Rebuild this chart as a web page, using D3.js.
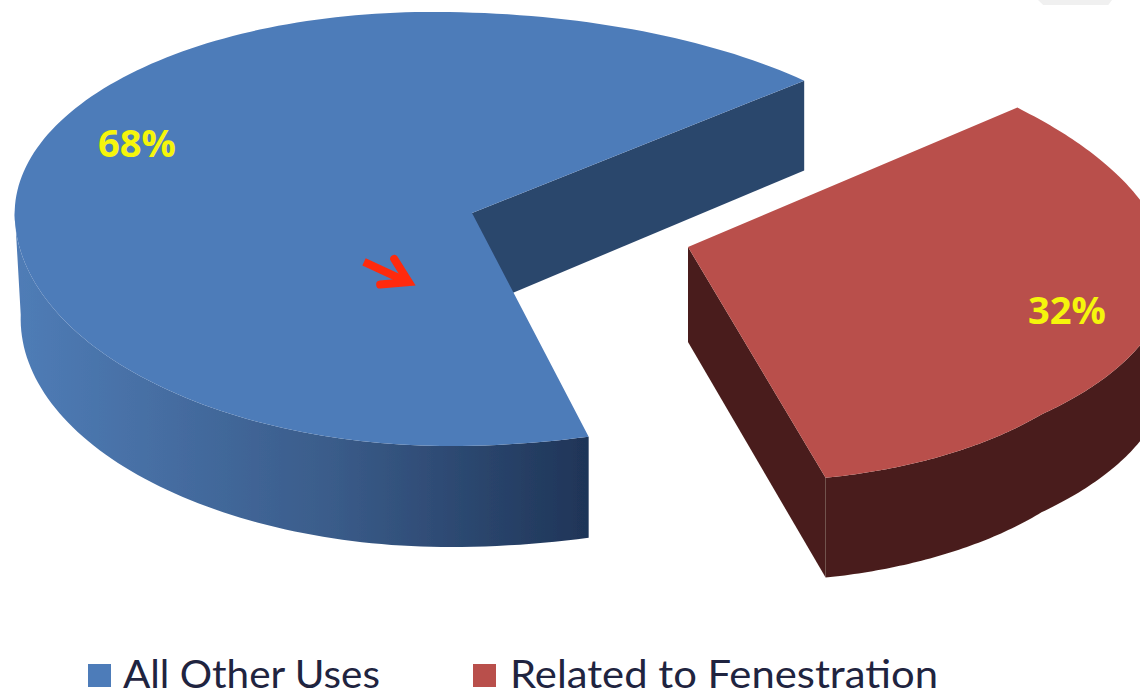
<!DOCTYPE html>
<html><head><meta charset="utf-8">
<script src="https://cdn.jsdelivr.net/npm/d3@7"></script>
<style>html,body{margin:0;padding:0;background:#fff;overflow:hidden}svg{display:block}</style>
</head><body><svg id="c" width="1140" height="691"></svg>
<script>
const categories = ["All Other Uses", "Related to Fenestration"];
const values = [68, 32];
const percentLabels = ["68%", "32%"];
const topColors = ["#4e7cb9", "#b9504b"];
const wallColors = ["#2c476c", "#4a1e1b"];
const sideStops = [["#4f7cb6", "#3a5c8a", "#1f3558"], ["#4a1e1b", "#4a1e1b", "#4a1e1b"]];

const svg = d3.select("#c");
const defs = svg.append("defs");
const soft = defs.append("filter").attr("id", "soft");
soft.append("feGaussianBlur").attr("stdDeviation", 0.5);
const root = svg.append("g").attr("filter", "url(#soft)");
const TAU = Math.PI * 2;

// Projection of each exploded slice: unit circle -> tilted ellipse on screen
const frames = [
  { apex: [472, 213], apexDepth: 97,
    x: d3.scaleLinear([-1, 0, 1], [15, 440, 935]), y: d3.scaleLinear([-1, 0, 1], [12, 218, 446]),
    shear: 17, lift: -4, inset: 6, depth: d3.scaleLinear([-1, -0.6, 0, 1], [88, 90, 106, 101]), gx: [20, 585] },
  { apex: [688, 247], apexDepth: 95,
    x: d3.scaleLinear([-1, 0, 0.76, 1], [230, 688, 1030, 1168]), y: d3.scaleLinear([-1, 0, 1], [10, 247, 481]),
    shear: 18, lift: 20, inset: 0, depth: d3.scaleLinear([-1, 1], [88, 100]), gx: [825, 1140] }
];

const rotation = 49.3 / 360 * TAU;
const redSweep = values[1] / d3.sum(values) * TAU;
const slices = [
  { start: rotation + redSweep, end: rotation + TAU },
  { start: rotation, end: rotation + redSweep }
];

const project = (f, a, drop = false) => {
  const ux = Math.sin(a), uy = -Math.cos(a);
  return [
    f.x(ux) + f.shear * uy + (drop ? Math.max(0, -ux) * f.inset : 0),
    f.y(uy) + f.lift * ux + (drop ? f.depth(uy) : 0)
  ];
};
const line = d3.line();
const samples = (s, e) => d3.range(0, 181).map(i => s + (e - s) * i / 180);

categories.forEach((c, i) => {
  const f = frames[i], s = slices[i];
  const apex = f.apex;
  const apexDrop = [apex[0], apex[1] + f.apexDepth];
  const g = root.append("g");

  const grad = defs.append("linearGradient").attr("id", "side" + i)
    .attr("gradientUnits", "userSpaceOnUse")
    .attr("x1", f.gx[0]).attr("x2", f.gx[1]).attr("y1", 0).attr("y2", 0);
  sideStops[i].forEach((col, k) => grad.append("stop").attr("offset", [0, 0.55, 1][k]).attr("stop-color", col));

  // inner cut wall
  g.append("path").attr("fill", wallColors[i])
    .attr("d", line([apex, project(f, s.end), project(f, s.end, true), apexDrop]) + "Z");

  // outer rim: only the part facing the viewer
  const rim = samples(s.start, s.end).filter(a => Math.cos(a) < 0.08);
  const upper = rim.map(a => project(f, a));
  const lower = rim.map(a => project(f, a, true)).reverse();
  g.append("path").attr("fill", `url(#side${i})`).attr("d", line(upper.concat(lower)) + "Z");

  // top face
  const top = [apex].concat(samples(s.start, s.end).map(a => project(f, a)));
  g.append("path").attr("fill", topColors[i]).attr("d", line(top) + "Z");
});

// Red annotation arrow
const arrowX = d3.scaleLinear([0, 1], [363, 415]);
const arrowY = d3.scaleLinear([0, 1], [258, 286]);
const ag = root.append("g").attr("fill", "none").attr("stroke", "#ff2a0a").attr("stroke-width", 8).attr("stroke-linejoin", "miter");
ag.append("path").attr("d", line([[arrowX(0.02), arrowY(0.14)], [arrowX(0.85), arrowY(0.85)]]));
ag.append("path").attr("stroke-linecap", "round").attr("d", line([[arrowX(0.6), arrowY(0.03)], [arrowX(0.88), arrowY(0.86)], [arrowX(0.33), arrowY(0.95)]]));

// Faint grey smudge at the top edge of the source image
const smudgeX = d3.scaleLinear([0, 1], [1038, 1112]);
const smudgeY = d3.scaleLinear([0, 1], [0, 5]);
root.append("path").attr("fill", "#f0f0f0")
  .attr("d", line([[smudgeX(0), smudgeY(0)], [smudgeX(1), smudgeY(0)], [smudgeX(0.95), smudgeY(1)], [smudgeX(0.07), smudgeY(1)]]) + "Z");

// Percent labels
const labelPos = [[137, 144], [1067, 311]];
svg.selectAll("text.pct").data(percentLabels).join("text").attr("class", "pct")
  .attr("x", (d, i) => labelPos[i][0] - 39).attr("y", (d, i) => labelPos[i][1] + 13)
  .attr("textLength", 78).attr("lengthAdjust", "spacingAndGlyphs")
  .attr("font-family", "'Open Sans', sans-serif").attr("font-weight", 700).attr("font-size", 37)
  .attr("fill", "#f5f50c").text(d => d);

// Legend
const legendX = [88, 473], legendTextX = [123, 510], legendWidths = [257, 428];
categories.forEach((c, i) => {
  root.append("rect").attr("x", legendX[i]).attr("y", 664).attr("width", 23).attr("height", 23).attr("fill", topColors[i]);
  svg.append("text").attr("x", legendTextX[i]).attr("y", 688)
    .attr("textLength", legendWidths[i]).attr("lengthAdjust", "spacingAndGlyphs")
    .attr("font-family", "Lato, sans-serif").attr("font-size", 38).attr("fill", "#1f2440").text(c);
});
</script></body></html>
